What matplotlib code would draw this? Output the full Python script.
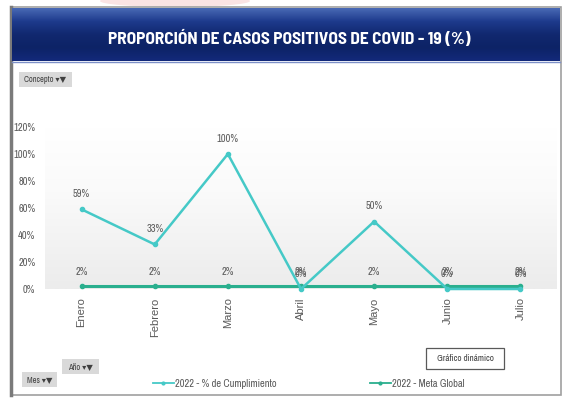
import matplotlib.pyplot as plt
import numpy as np
from matplotlib.patches import Rectangle, Ellipse
from matplotlib.lines import Line2D
from matplotlib.colors import LinearSegmentedColormap

# Data
meses = ['Enero', 'Febrero', 'Marzo', 'Abril', 'Mayo', 'Junio', 'Julio']
cumplimiento = [59, 33, 100, 0, 50, 0, 0]
meta_global = [2, 2, 2, 2, 2, 2, 2]
y_ticks = [0, 20, 40, 60, 80, 100, 120]

titulo = 'PROPORCIÓN DE CASOS POSITIVOS DE COVID - 19 (%)'
nombres = ['2022 - % de Cumplimiento', '2022 - Meta Global']

c_cumpl = '#45c9c7'
c_meta = '#2aaf8e'
gris_txt = '#595959'
narrow = ['Archivo Narrow', 'DejaVu Sans']
titulo_font = ['Barlow Semi Condensed', 'DejaVu Sans']

W, H = 563, 400
fig = plt.figure(figsize=(W / 100, H / 100), dpi=100)

# background axes in pixel coordinates
bg = fig.add_axes([0, 0, 1, 1])
bg.set_xlim(0, W)
bg.set_ylim(H, 0)
bg.axis('off')

# faint watermark at the top
bg.add_patch(Ellipse((175, 1), 150, 12, color='#f9d3d3', alpha=0.6, lw=0))

# frame
bg.add_patch(Rectangle((11, 7), 550, 388, facecolor='white', edgecolor='#a0a0a0', lw=1.2))
bg.plot([11, 11], [7, 395], color='#7a7a7a', lw=2.5)

# title banner with vertical gradient
grad = np.linspace(0, 1, 60).reshape(-1, 1)
cmap_banner = LinearSegmentedColormap.from_list(
    'banner', ['#4868b4', '#1d3a8c', '#11286f', '#0d2366', '#13297a'])
bg.imshow(grad, extent=(12, 560, 61, 8), cmap=cmap_banner, aspect='auto', zorder=2)
bg.plot([12, 560], [61.5, 61.5], color='#7d90c8', lw=1, zorder=3)
bg.text(289, 38, titulo, color='white', fontsize=12.5, fontweight='bold',
        family=titulo_font, ha='center', va='center', zorder=4)

# field buttons
def boton(x, y, w, h, txt):
    bg.add_patch(Rectangle((x, y), w, h, facecolor='#d9d9d9', edgecolor='none', zorder=2))
    bg.text(x + w / 2, y + h / 2, txt, fontsize=6, color='#404040', family=narrow,
            ha='center', va='center', zorder=3)

boton(19, 72, 53, 15, 'Concepto ▾▼')
boton(62, 359, 37, 15, 'Año ▾▼')
boton(22, 372, 35, 15, 'Mes ▾▼')

# "Gráfico dinámico" box
bg.add_patch(Rectangle((426, 348), 78, 21, facecolor='white', edgecolor='#595959', lw=0.9, zorder=2))
bg.text(465, 358.5, 'Gráfico dinámico', fontsize=6.5, color='#404040', family=narrow,
        ha='center', va='center', zorder=3)

# main plot axes: x from 45 to 557 px, y from 127 (120%) to 289 (0%)
ax = fig.add_axes([45 / W, 1 - 289 / H, (557 - 45) / W, (289 - 127) / H])
ax.set_facecolor('none')

# gradient plot-area background
g = np.linspace(1, 0, 100).reshape(-1, 1)
cmap_bg = LinearSegmentedColormap.from_list('pa', [(0, '#ececec'), (0.6, '#fafafa'), (1, '#ffffff')])
ax.imshow(g, extent=(-0.5, 6.5, 0, 120), cmap=cmap_bg, aspect='auto', zorder=0, vmin=0, vmax=1)
ax.set_xlim(-0.5, 6.5)
ax.set_ylim(0, 120)

x = np.arange(len(meses))
ax.plot(x, meta_global, color=c_meta, lw=2.2, marker='o', ms=3, zorder=3, clip_on=False)
ax.plot(x, cumplimiento, color=c_cumpl, lw=1.8, marker='o', ms=3, zorder=4, clip_on=False)

for xi, v in zip(x, cumplimiento):
    ax.annotate(f'{v}%', (xi, v), xytext=(0, 11), textcoords='offset points', ha='center',
                va='center', fontsize=7.5, color=gris_txt, family=narrow, annotation_clip=False)
for xi, v in zip(x, meta_global):
    ax.annotate(f'{v}%', (xi, v), xytext=(0, 10.5), textcoords='offset points', ha='center',
                va='center', fontsize=7.5, color=gris_txt, family=narrow, annotation_clip=False)

ax.set_xticks(x)
ax.set_xticklabels(meses, rotation=90, fontsize=8, color=gris_txt, family='Liberation Sans')
ax.set_yticks(y_ticks)
ax.set_yticklabels([f'{t}%' for t in y_ticks], fontsize=7.5, color=gris_txt, family=narrow)
ax.tick_params(length=0, pad=6)
ax.tick_params(axis='y', pad=7)
for s in ax.spines.values():
    s.set_visible(False)

# legend, one entry each, placed like the reference
for nombre, color, x0 in [(nombres[0], c_cumpl, 153), (nombres[1], c_meta, 370)]:
    h = Line2D([], [], color=color, lw=1.3, marker='o', ms=2)
    leg = fig.legend([h], [nombre], loc='center left', bbox_to_anchor=(x0 / W, 1 - 384 / H),
                     frameon=False, handlelength=2.0, handletextpad=0.1, borderpad=0,
                     borderaxespad=0, prop={'family': narrow, 'size': 7.5})
    for t in leg.get_texts():
        t.set_color(gris_txt)

fig.savefig('out.png', dpi=100)
